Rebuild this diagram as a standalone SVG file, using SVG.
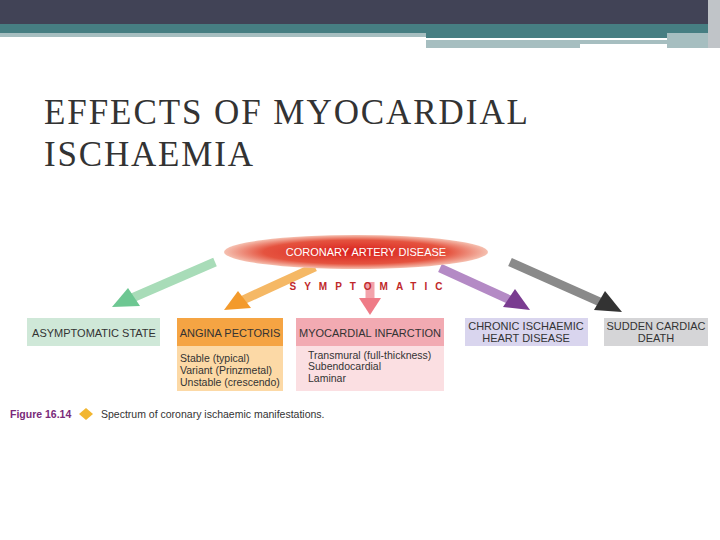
<svg xmlns="http://www.w3.org/2000/svg" width="720" height="540" viewBox="0 0 720 540">
<defs>
<radialGradient id="ell" cx="0.5" cy="0.5" r="0.5"><stop offset="0" stop-color="#d9201d"/><stop offset="0.7" stop-color="#e5533f"/><stop offset="1" stop-color="#f5c0b0"/></radialGradient>
<style>
.s{font-family:"Liberation Sans",Arial,sans-serif;font-size:10.5px;fill:#333}
.h{font-family:"Liberation Sans",Arial,sans-serif;font-size:11px;fill:#333;text-anchor:middle}
.a{stroke-width:9;fill:none;stroke-linecap:butt}
</style>
</defs>
<rect width="720" height="540" fill="#fff"/>
<rect x="0" y="0" width="720" height="24" fill="#414356"/>
<rect x="0" y="24" width="708" height="9" fill="#467e82"/>
<rect x="0" y="33" width="426" height="4" fill="#a6bec0"/>
<rect x="426" y="33" width="282" height="5" fill="#467e82"/>
<rect x="426" y="38" width="240" height="2" fill="#fff"/>
<rect x="426" y="40" width="241" height="4" fill="#a6bec0"/>
<rect x="426" y="44" width="154" height="4" fill="#a6bec0"/>
<rect x="667" y="33" width="41" height="15" fill="#a6bec0"/>
<rect x="708" y="0" width="12" height="48" fill="#c0c4c8"/>
<text x="44" y="124" font-family="Liberation Serif,serif" font-size="35" fill="#333" textLength="484" lengthAdjust="spacing">EFFECTS OF MYOCARDIAL</text>
<text x="44" y="166" font-family="Liberation Serif,serif" font-size="35" fill="#333" textLength="209" lengthAdjust="spacing">ISCHAEMIA</text>
<g id="connectors">
<path class="a" d="M215 262 L132 298" stroke="#a8dcb8"/><polygon points="112,307 128,288 140,306" fill="#6dc792"/>
<path class="a" d="M315 267 L243 300" stroke="#f5b865"/><polygon points="224,310 238,291 251,308" fill="#f39a2c"/>
<path class="a" d="M370 282 L370 299" stroke="#f3a3ab"/><polygon points="359,298 381,298 370,315" fill="#ef7b87"/>
<path class="a" d="M440 268 L510 300" stroke="#b48ac5"/><polygon points="530,310 503,307 515,289" fill="#7a3c90"/>
<path class="a" d="M510 262 L600 302" stroke="#8a8a8a"/><polygon points="622,312 594,310 605,291" fill="#333"/>
</g>
<g id="cad"><ellipse cx="356" cy="252" rx="132" ry="17" fill="url(#ell)"/><text x="366" y="256" class="h" style="fill:#fff">CORONARY ARTERY DISEASE</text></g>
<text x="370" y="290" font-family="Liberation Sans,Arial,sans-serif" font-size="10" font-weight="bold" fill="#c0282a" text-anchor="middle" letter-spacing="8">SYMPTOMATIC</text>
<g id="asym"><rect x="27" y="318" width="133" height="28" fill="#cfe8d8"/><text x="94" y="337" class="h">ASYMPTOMATIC STATE</text></g>
<g id="angina"><rect x="177" y="318" width="106" height="28" fill="#f5a443"/><rect x="177" y="346" width="106" height="45" fill="#fcd9a6"/><text x="230" y="337" class="h">ANGINA PECTORIS</text>
<text x="180" y="362" class="s">Stable (typical)</text><text x="180" y="374" class="s">Variant  (Prinzmetal)</text><text x="180" y="386" class="s">Unstable (crescendo)</text></g>
<g id="mi"><rect x="296" y="318" width="148" height="28" fill="#f2aab2"/><rect x="296" y="346" width="148" height="45" fill="#fbdfe2"/><text x="370" y="337" class="h">MYOCARDIAL INFARCTION</text>
<text x="308" y="359" class="s">Transmural (full-thickness)</text><text x="308" y="370" class="s">Subendocardial</text><text x="308" y="382" class="s">Laminar</text></g>
<g id="chronic"><rect x="465" y="318" width="123" height="28" fill="#d9d5ee"/><text x="526" y="330" class="h">CHRONIC ISCHAEMIC</text><text x="526" y="342" class="h">HEART DISEASE</text></g>
<g id="sudden"><rect x="604" y="318" width="104" height="28" fill="#d5d5d7"/><text x="656" y="330" class="h">SUDDEN CARDIAC</text><text x="656" y="342" class="h">DEATH</text></g>
<g id="caption"><text x="10" y="418" font-family="Liberation Sans,Arial,sans-serif" font-size="10.5" font-weight="bold" fill="#7a2a7a">Figure 16.14</text>
<polygon points="86,408 93,414 86,420 79,414" fill="#f2b630"/>
<text x="101" y="418" font-family="Liberation Sans,Arial,sans-serif" font-size="10.5" fill="#333">Spectrum of coronary ischaemic manifestations.</text></g>
</svg>
